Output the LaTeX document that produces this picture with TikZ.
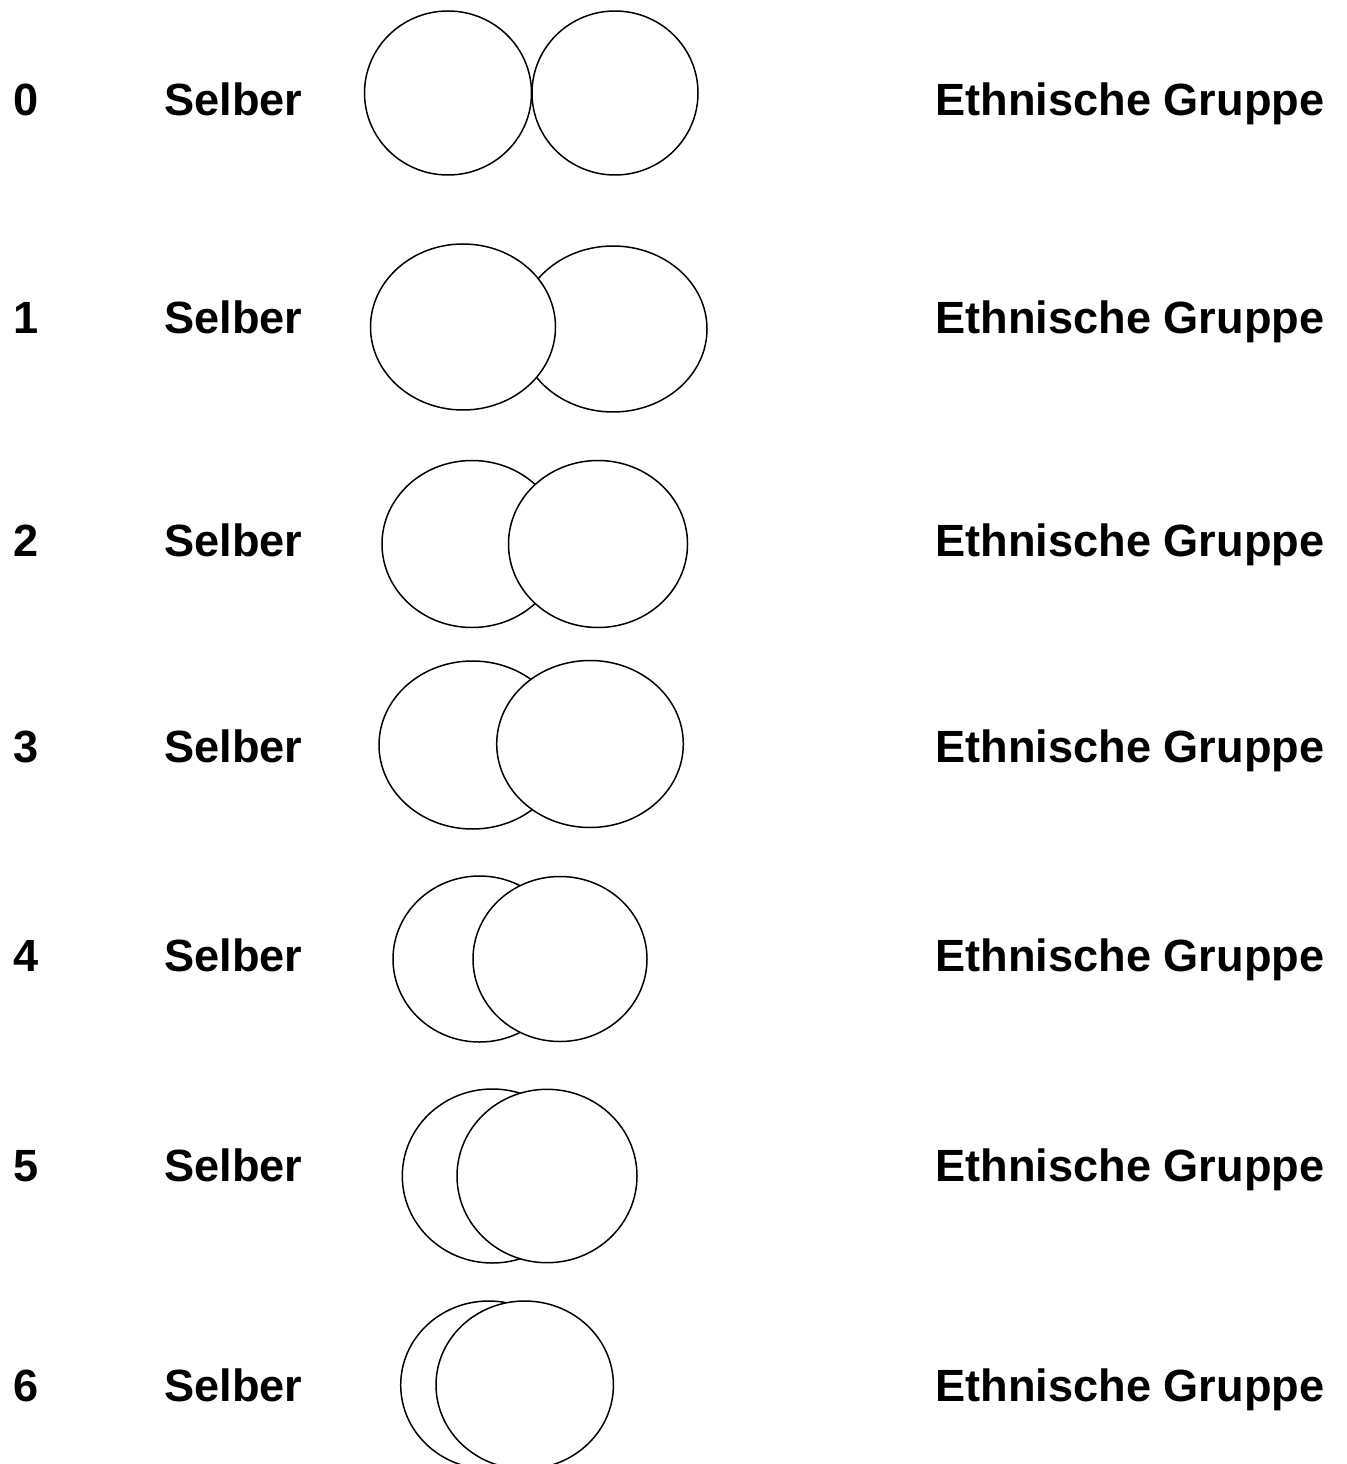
\documentclass[tikz,border=0pt]{standalone}
\usepackage{fontspec}
\setmainfont{Liberation Sans}
\usepackage{tikz}

\tikzset{
  ring/.style={draw=black,fill=white,line width=0.85pt},
  lbl/.style={anchor=base west,inner sep=0pt,font=\fontsize{25.7}{30}\selectfont\bfseries}
}

\begin{document}
\begin{tikzpicture}
\useasboundingbox (0,0) rectangle (26.92,-29.28);
% row 0
\draw[ring] (8.960,-1.860) ellipse [x radius=1.670cm, y radius=1.640cm];
\draw[ring] (12.300,-1.860) ellipse [x radius=1.660cm, y radius=1.640cm];
% row 1
\draw[ring] (12.260,-6.580) ellipse [x radius=1.880cm, y radius=1.660cm];
\draw[ring] (9.260,-6.540) ellipse [x radius=1.850cm, y radius=1.660cm];
% row 2
\draw[ring] (9.440,-10.880) ellipse [x radius=1.800cm, y radius=1.670cm];
\draw[ring] (11.960,-10.880) ellipse [x radius=1.790cm, y radius=1.670cm];
% row 3
\draw[ring] (9.450,-14.900) ellipse [x radius=1.870cm, y radius=1.680cm];
\draw[ring] (11.800,-14.880) ellipse [x radius=1.866cm, y radius=1.670cm];
% row 4
\draw[ring] (9.590,-19.180) ellipse [x radius=1.730cm, y radius=1.660cm];
\draw[ring] (11.200,-19.180) ellipse [x radius=1.740cm, y radius=1.650cm];
% row 5
\draw[ring] (9.846,-23.520) ellipse [x radius=1.800cm, y radius=1.740cm];
\draw[ring] (10.940,-23.520) ellipse [x radius=1.800cm, y radius=1.734cm];
% row 6
\draw[ring] (9.774,-27.700) ellipse [x radius=1.760cm, y radius=1.680cm];
\draw[ring] (10.494,-27.700) ellipse [x radius=1.774cm, y radius=1.680cm];
% labels
\foreach \i/\y in {0/-2.31,1/-6.68,2/-11.12,3/-15.24,4/-19.42,5/-23.62,6/-28.03} {
  \node[lbl] (num\i) at (0.270,\y) {\i};
  \node[lbl] (self\i) at (3.280,\y) {Selber};
  \node[lbl] (group\i) at (18.700,\y) {Ethnische Gruppe};
}
\end{tikzpicture}
\end{document}
